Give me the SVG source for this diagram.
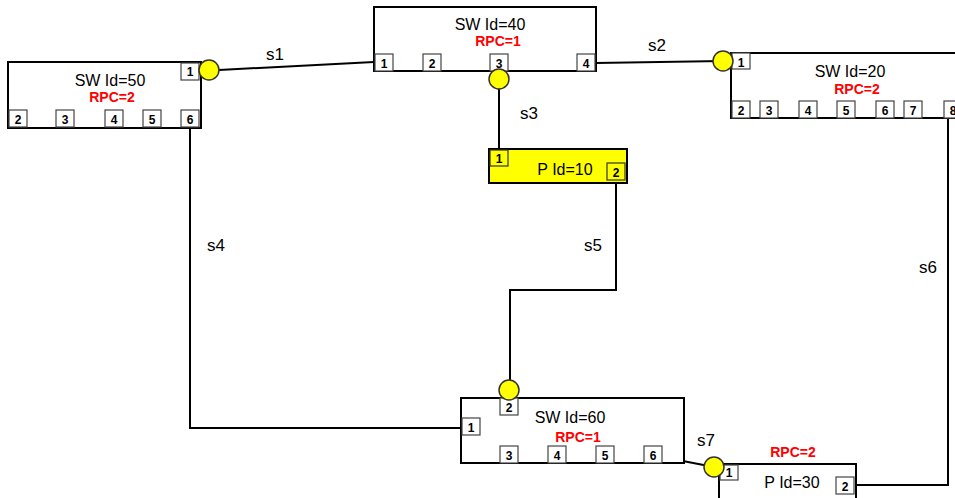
<svg xmlns="http://www.w3.org/2000/svg" width="955" height="498" viewBox="0 0 955 498">
<style>
.node{fill:#fff;stroke:#000;stroke-width:2}
.ynode{fill:#ffff00;stroke:#000;stroke-width:2}
.port{fill:#fff;stroke:#444;stroke-width:1.2}
.yport{fill:#ffff00;stroke:#333;stroke-width:1.2}
.pn{font-family:"Liberation Sans",Arial,sans-serif;font-size:12px;font-weight:bold;fill:#000;text-anchor:middle}
.nl{font-family:"Liberation Sans",Arial,sans-serif;font-size:16px;fill:#000;text-anchor:middle}
.rpc{font-family:"Liberation Sans",Arial,sans-serif;font-size:14px;font-weight:bold;fill:#ff0000;text-anchor:middle}
.cl{font-family:"Liberation Sans",Arial,sans-serif;font-size:17px;fill:#000;text-anchor:middle}
.wire{fill:none;stroke:#000;stroke-width:2}
.dot{fill:#ffff00;stroke:#333;stroke-width:1.5}
</style>
<rect width="955" height="498" fill="#fff"/>
<g id="connectors">
<path class="wire" d="M219,70 L374,62"/>
<path class="wire" d="M596,63 L723,61"/>
<path class="wire" d="M499,78 L499,149"/>
<path class="wire" d="M616,180 L616,290 L510,290 L510,390"/>
<path class="wire" d="M190,128 L190,428 L470,428"/>
<path class="wire" d="M662,457 L714,467"/>
<path class="wire" d="M856,485 L948,485 L948,118"/>
<text class="cl" x="275" y="60">s1</text>
<text class="cl" x="657" y="51">s2</text>
<text class="cl" x="529" y="119">s3</text>
<text class="cl" x="216" y="251">s4</text>
<text class="cl" x="593" y="251">s5</text>
<text class="cl" x="928" y="273">s6</text>
<text class="cl" x="706" y="446">s7</text>
</g>
<g id="sw50">
<rect class="node" x="8" y="62" width="193" height="66"/>
<rect class="port" x="181" y="63" width="18" height="17"/><text class="pn" x="190" y="76">1</text>
<rect class="port" x="9" y="110" width="18" height="17"/><text class="pn" x="18" y="124">2</text>
<rect class="port" x="56" y="110" width="18" height="17"/><text class="pn" x="65" y="124">3</text>
<rect class="port" x="105" y="110" width="18" height="17"/><text class="pn" x="114" y="124">4</text>
<rect class="port" x="143" y="110" width="18" height="17"/><text class="pn" x="152" y="124">5</text>
<rect class="port" x="181" y="110" width="18" height="17"/><text class="pn" x="190" y="124">6</text>
<text class="nl" x="110" y="86">SW Id=50</text>
<text class="rpc" x="112" y="102">RPC=2</text>
<circle class="dot" cx="209" cy="70" r="10"/>
</g>
<g id="sw40">
<rect class="node" x="374" y="7" width="222" height="64"/>
<rect class="port" x="375" y="54" width="18" height="17"/><text class="pn" x="384" y="68">1</text>
<rect class="port" x="423" y="54" width="18" height="17"/><text class="pn" x="432" y="68">2</text>
<rect class="port" x="490" y="54" width="18" height="17"/><text class="pn" x="499" y="68">3</text>
<rect class="port" x="577" y="54" width="18" height="17"/><text class="pn" x="586" y="68">4</text>
<text class="nl" x="490" y="30">SW  Id=40</text>
<text class="rpc" x="498" y="46">RPC=1</text>
<circle class="dot" cx="499" cy="79" r="10"/>
</g>
<g id="sw20">
<rect class="node" x="731" y="53" width="240" height="65"/>
<rect class="port" x="732" y="53" width="18" height="16"/><text class="pn" x="741" y="67">1</text>
<rect class="port" x="732" y="101" width="18" height="17"/><text class="pn" x="741" y="115">2</text>
<rect class="port" x="760" y="101" width="18" height="17"/><text class="pn" x="769" y="115">3</text>
<rect class="port" x="799" y="101" width="18" height="17"/><text class="pn" x="808" y="115">4</text>
<rect class="port" x="837" y="101" width="18" height="17"/><text class="pn" x="846" y="115">5</text>
<rect class="port" x="876" y="101" width="18" height="17"/><text class="pn" x="885" y="115">6</text>
<rect class="port" x="904" y="101" width="18" height="17"/><text class="pn" x="913" y="115">7</text>
<rect class="port" x="944" y="101" width="18" height="17"/><text class="pn" x="953" y="115">8</text>
<text class="nl" x="850" y="77">SW Id=20</text>
<text class="rpc" x="857" y="94">RPC=2</text>
<circle class="dot" cx="723" cy="61" r="10"/>
</g>
<g id="p10">
<rect class="ynode" x="489" y="149" width="138" height="34"/>
<rect class="yport" x="490" y="150" width="18" height="16"/><text class="pn" x="499" y="163">1</text>
<rect class="yport" x="607" y="163" width="18" height="17"/><text class="pn" x="616" y="177">2</text>
<text class="nl" x="565" y="175">P Id=10</text>
</g>
<g id="sw60">
<rect class="node" x="461" y="398" width="223" height="65"/>
<rect class="port" x="500" y="398" width="18" height="17"/><text class="pn" x="509" y="412">2</text>
<rect class="port" x="462" y="418" width="18" height="17"/><text class="pn" x="471" y="432">1</text>
<rect class="port" x="500" y="446" width="18" height="17"/><text class="pn" x="509" y="460">3</text>
<rect class="port" x="548" y="446" width="18" height="17"/><text class="pn" x="557" y="460">4</text>
<rect class="port" x="596" y="446" width="18" height="17"/><text class="pn" x="605" y="460">5</text>
<rect class="port" x="644" y="446" width="18" height="17"/><text class="pn" x="653" y="460">6</text>
<text class="nl" x="570" y="423">SW Id=60</text>
<text class="rpc" x="578" y="442">RPC=1</text>
<circle class="dot" cx="509" cy="390" r="10"/>
</g>
<g id="p30">
<rect class="node" x="719" y="464" width="137" height="40"/>
<rect class="port" x="720" y="465" width="18" height="15"/><text class="pn" x="729" y="477">1</text>
<rect class="port" x="836" y="477" width="18" height="17"/><text class="pn" x="845" y="491">2</text>
<text class="nl" x="792" y="488">P Id=30</text>
<text class="rpc" x="793" y="457">RPC=2</text>
<circle class="dot" cx="714" cy="467" r="10"/>
</g>
</svg>
